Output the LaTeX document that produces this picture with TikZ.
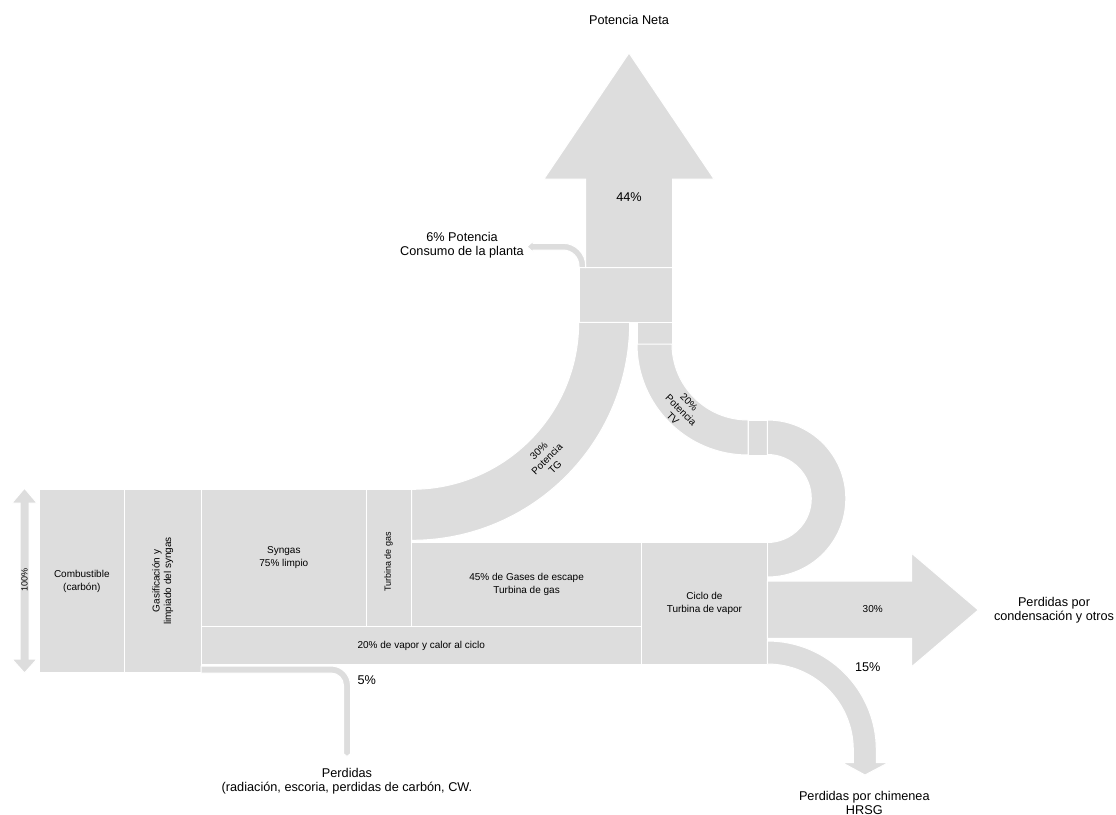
\documentclass[tikz,border=0pt]{standalone}
\usepackage{fontspec}
\setmainfont{Liberation Sans}
\usepackage{tikz}
\definecolor{flowgray}{RGB}{221,221,221}

\begin{document}
\begin{tikzpicture}[x=1pt,y=-1pt,inner sep=0pt,outer sep=0pt]
                \tikzstyle{flow}=[fill=flowgray,draw=white,line width=1pt]
                \tikzstyle{block}=[flow,rectangle,anchor=north west,align=center,font=\fontsize{10}{13}\selectfont]
                \tikzstyle{small}=[align=center,font=\fontsize{10}{11.5}\selectfont]
                \tikzstyle{tiny}=[align=center,font=\fontsize{9}{11}\selectfont]
                \tikzstyle{big}=[align=center,font=\fontsize{12.7}{14.5}\selectfont]

                \useasboundingbox (0,0) rectangle (1116,814);

                \node[block,minimum width=93.7pt,minimum height=55pt]   (PW) at (579,267.7)   {};
                \node[block,minimum width=35.7pt,minimum height=21.3pt] (ST) at (637,322.7)   {};
                \node[block,minimum width=19.3pt,minimum height=35pt]   (LK) at (748,420)     {};

                \path[flow] (585.7,267.7) -- (585.7,179) -- (544,179) -- (629,53) -- (714,179)
                    -- (672.7,179) -- (PW.north east) -- cycle;
                \path[flow] (585.7,267.7) -- (585.7,266) arc[start angle=0,end angle=-90,radius=22.7]
                    -- (533,243.3) -- (533,241.3) -- (527,246.7) -- (533,252) -- (533,250)
                    -- (563,250) arc[start angle=-90,end angle=0,radius=16] -- (PW.north west) -- cycle;
                \path[flow] (ST.south west) arc[start angle=180,end angle=90,radius=111]
                    -- (LK.north west) arc[start angle=90,end angle=180,radius=76] -- cycle;
                \path[flow] (LK.north east) arc[start angle=-90,end angle=90,radius=78.5]
                    -- ++(0,-34.5) arc[start angle=90,end angle=-90,radius=44] -- cycle;

                \node[block,minimum width=85pt,minimum height=183.4pt]  (CB) at (39.3,489.3)  {Combustible\\(carbón)};
                \node[block,minimum width=76.7pt,minimum height=183.4pt](GS) at (124.3,489.3) {};
                \node[block,minimum width=165.7pt,minimum height=137.4pt](SY) at (201,489.3)  {Syngas\\75\% limpio};
                \node[block,minimum width=45pt,minimum height=137.4pt]  (TG) at (366.7,489.3) {};
                \node[block,minimum width=440.5pt,minimum height=37.6pt](VC) at (201,626.7)   {20\% de vapor y calor al ciclo};
                \node[block,minimum width=229.8pt,minimum height=84pt]  (GE) at (411.7,542.7) {45\% de Gases de escape\\Turbina de gas};
                \node[block,minimum width=125.8pt,minimum height=121.6pt](CT) at (641.5,542.7) {Ciclo de\\Turbina de vapor};

                \path[flow] (TG.north east) arc[start angle=90,end angle=0,radius=167]
                    -- ++(51,0) arc[start angle=0,end angle=90,radius=218] -- cycle;
                \path[flow] (201,666) -- (331,666) arc[start angle=-90,end angle=0,radius=19.5]
                    -- (350.5,752.7) -- (351.7,752.7) -- (347,756.5) -- (342.3,752.7) -- (343.5,752.7)
                    -- (343.5,685.5) arc[start angle=0,end angle=-90,radius=12.5] -- (201,673) -- cycle;
                \path[flow] (767.3,581) -- (911.7,581) -- (911.7,553.3) -- (978.3,610) -- (911.7,666.7)
                    -- (911.7,638.3) -- (767.3,638.3) -- cycle;
                \path[flow] (767.3,641) arc[start angle=-90,end angle=0,radius=109] -- (876.3,762.7)
                    -- (888.3,762.7) -- (865,775) -- (842.3,762.7) -- (853.3,762.7) -- (853.3,750)
                    arc[start angle=0,end angle=-90,radius=86] -- (CT.south east) -- cycle;
                \path[flow] (24.5,488.3) -- (37,503) -- (29,503) -- (29,659) -- (37,659) -- (24.5,673)
                    -- (12,659) -- (20,659) -- (20,503) -- (12,503) -- cycle;

                \node[small,rotate=90]  (GSL)  at (GS)            {Gasificación y\\limpiado del syngas};
                \node[tiny,rotate=90]   (TGL)  at (388.5,562)     {Turbina de gas};
                \node[tiny,rotate=90]   (P100) at (24.5,580)      {100\%};
                \node[small,rotate=45]  (PTG)  at (547,459)       {30\%\\Potencia\\TG};
                \node[small,rotate=-45] (PTV)  at (681,410)       {20\%\\Potencia\\TV};
                \node[small]            (P30)  at (872.7,609)     {30\%};
                \node[big]              (NETA) at (629,20)        {Potencia Neta};
                \node[big]              (P44)  at (629,197)       {44\%};
                \node[big]              (CONS) at (462,245)       {6\% Potencia\\Consumo de la planta};
                \node[big]              (P15)  at (867.7,666.7)   {15\%};
                \node[big]              (COND) at (1054,610)      {Perdidas por\\condensación y otros};
                \node[big]              (CHIM) at (864.3,803)     {Perdidas por chimenea\\HRSG};
                \node[big]              (P5)   at (366.7,680)     {5\%};
                \node[big]              (RAD)  at (347,781)       {Perdidas\\(radiación, escoria, perdidas de carbón, CW.};
            \end{tikzpicture}
\end{document}
